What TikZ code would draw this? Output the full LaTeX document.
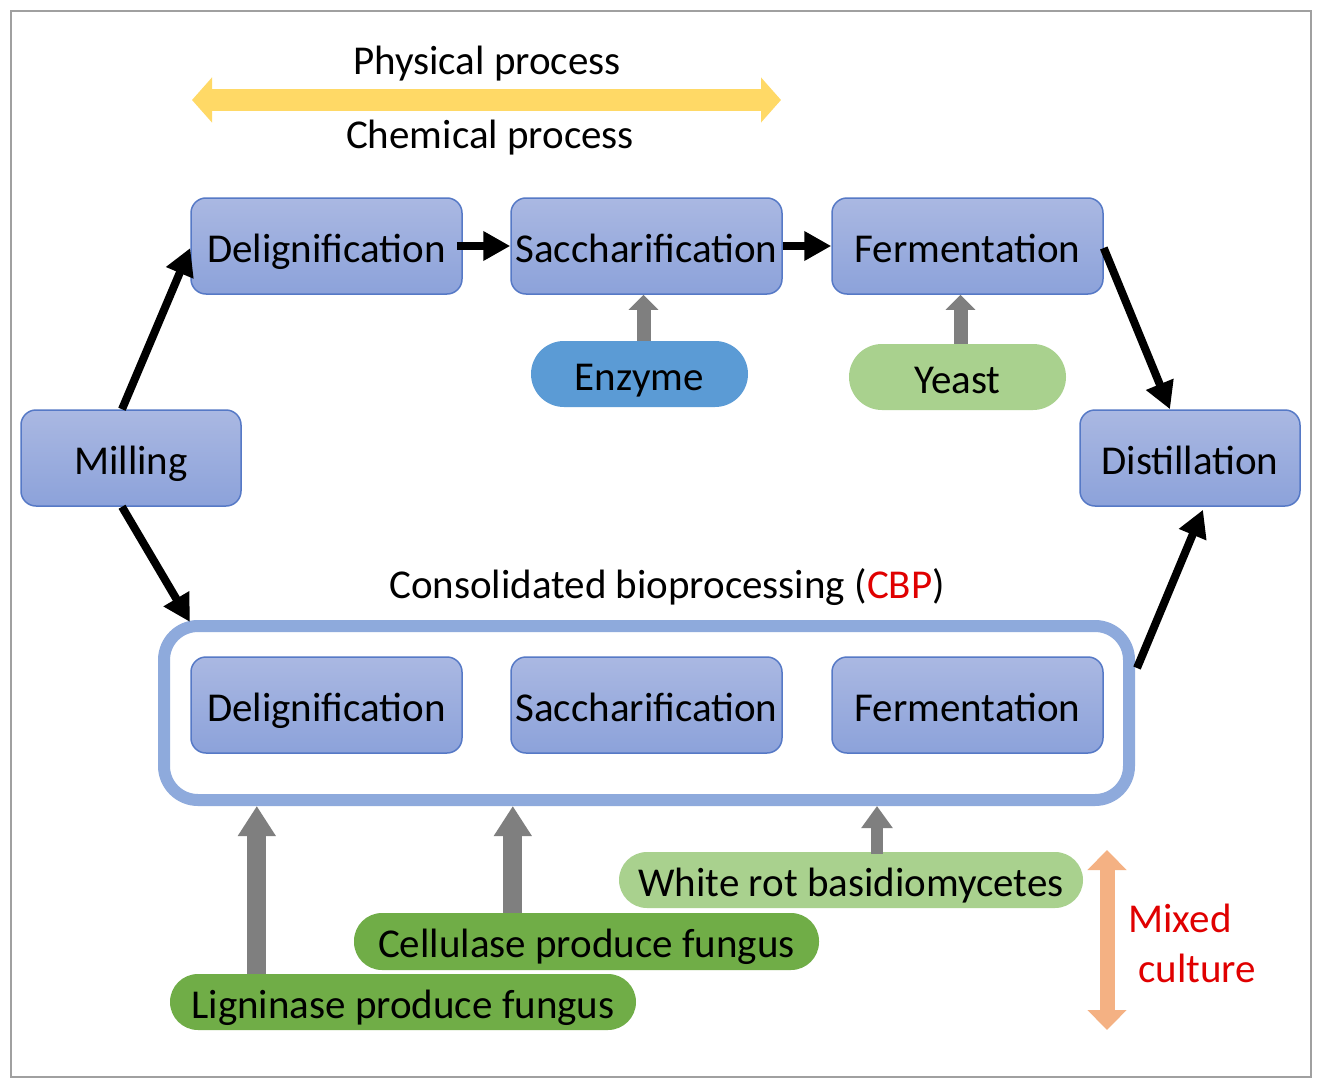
\documentclass[tikz,border=0pt]{standalone}
\usepackage{fontspec}
\setmainfont{Carlito}
\usetikzlibrary{arrows.meta}
\definecolor{boxtop}{HTML}{AAB8E2}
\definecolor{boxbot}{HTML}{8CA2DA}
\definecolor{boxline}{HTML}{5679C6}
\definecolor{cbpline}{HTML}{8EAADC}
\definecolor{enz}{HTML}{5B9BD5}
\definecolor{lgreen}{HTML}{A9D18E}
\definecolor{dgreen}{HTML}{70AD47}
\definecolor{garrow}{HTML}{7F7F7F}
\definecolor{yarrow}{HTML}{FFD966}
\definecolor{oarrow}{HTML}{F4B183}
\definecolor{redtxt}{HTML}{E00000}
\tikzset{
  txt/.style={font=\fontsize{41}{49}\selectfont, inner sep=0pt, text height=36pt, text depth=4pt},
  procbox/.style={txt, draw=boxline, line width=1.5pt, rounded corners=15pt,
    top color=boxtop, bottom color=boxbot, minimum width=271pt, minimum height=96pt},
  pill/.style={txt, rounded corners=32pt, minimum height=64pt},
  blackarr/.style={line width=8pt, black, -{Triangle[length=27pt,width=28pt]}},
}
\begin{document}
\begin{tikzpicture}[x=1pt,y=-1pt]
\useasboundingbox (0,0) rectangle (1322,1089);
\fill[white] (0,0) rectangle (1322,1089);
\draw[line width=2pt, draw={rgb,255:red,160;green,160;blue,160}] (11,11) rectangle (1311,1077);

% top labels and yellow arrow
\node[txt] (phys) at (487,59) {Physical process};
\node[txt] (chem) at (490,133) {Chemical process};
\coordinate (yl) at (192,100);
\coordinate (yr) at (781,100);
\draw[yarrow, line width=22pt, {Triangle[length=20pt,width=44pt]}-{Triangle[length=20pt,width=44pt]}] (yl) -- (yr);

% top process boxes
\node[procbox] (del1) at (326.5,246) {Delignification};
\node[procbox] (sac1) at (646.5,246) {Saccharification};
\node[procbox] (fer1) at (967.5,246) {Fermentation};
\node[procbox, minimum width=220pt] (mill) at (131,458) {Milling};
\node[procbox, minimum width=220pt] (dist) at (1190,458) {Distillation};

% enzyme, yeast
\node[pill, fill=enz, minimum width=217pt, minimum height=66pt, rounded corners=33pt] (enzyme) at (639.5,374) {Enzyme};
\node[pill, fill=lgreen, minimum width=217pt, minimum height=66pt, rounded corners=33pt] (yeast) at (957.5,377) {Yeast};

\draw[garrow, line width=14pt, -{Triangle[length=15pt,width=29pt]}] ([xshift=4pt]enzyme.north) -- ([xshift=4pt]enzyme.north |- sac1.south);
\draw[garrow, line width=14pt, -{Triangle[length=15pt,width=29pt]}] ([xshift=3pt]yeast.north) -- ([xshift=3pt]yeast.north |- fer1.south);

% black arrows top
\draw[blackarr] ([xshift=-6pt]del1.east) -- (sac1.west);
\draw[blackarr] (sac1.east) -- (fer1.west);
\draw[blackarr] ([xshift=-9pt]mill.north) -- ([yshift=-2pt]del1.west);
\draw[blackarr] ([yshift=-2pt]fer1.east) -- ([xshift=-20pt]dist.north);

% CBP
\node[txt] (cbplabel) at (667,582) {Consolidated bioprocessing (\textcolor{redtxt}{CBP})};
\node[draw=cbpline, line width=12pt, rounded corners=34pt, minimum width=965pt, minimum height=174pt] (cbp) at (646.5,713) {};
\node[procbox] (del2) at (326.5,705) {Delignification};
\node[procbox] (sac2) at (646.5,705) {Saccharification};
\node[procbox] (fer2) at (967.5,705) {Fermentation};

\draw[blackarr] ([xshift=-9pt]mill.south) -- ([xshift=32pt,yshift=-2pt]cbp.north west);
\draw[blackarr] ([xshift=2pt,yshift=45pt]cbp.east) -- ([xshift=13pt,yshift=-3pt]dist.south);

% fungi pills
\node[pill, fill=lgreen, minimum width=464pt, minimum height=56pt, rounded corners=28pt] (wr) at (851,880) {White rot basidiomycetes};
\node[pill, fill=dgreen, minimum width=465pt, minimum height=57pt, rounded corners=28pt] (cell) at (586.5,941.5) {Cellulase produce fungus};
\node[pill, fill=dgreen, minimum width=466pt, minimum height=56pt, rounded corners=28pt] (lig) at (403,1002) {Ligninase produce fungus};

\draw[garrow, line width=19pt, -{Triangle[length=30pt,width=36pt]}] ([xshift=87pt]lig.north west) -- ([xshift=87pt]lig.north west |- cbp.south);
\draw[garrow, line width=19pt, -{Triangle[length=30pt,width=36pt]}] ([xshift=159pt]cell.north west) -- ([xshift=159pt]cell.north west |- cbp.south);
\draw[garrow, line width=12pt, -{Triangle[length=22pt,width=30pt]}] ([xshift=26pt,yshift=-2pt]wr.north) -- ([xshift=26pt]wr.north |- cbp.south);

% mixed culture
\coordinate (mt) at (1107,850);
\coordinate (mb) at (1107,1030);
\draw[oarrow, line width=15pt, {Triangle[length=20pt,width=38pt]}-{Triangle[length=20pt,width=38pt]}] (mt) -- (mb);
\node[txt, text=redtxt] (mixed) at (1180,916) {Mixed};
\node[txt, text=redtxt] (culture) at (1197,966) {culture};
\end{tikzpicture}
\end{document}
